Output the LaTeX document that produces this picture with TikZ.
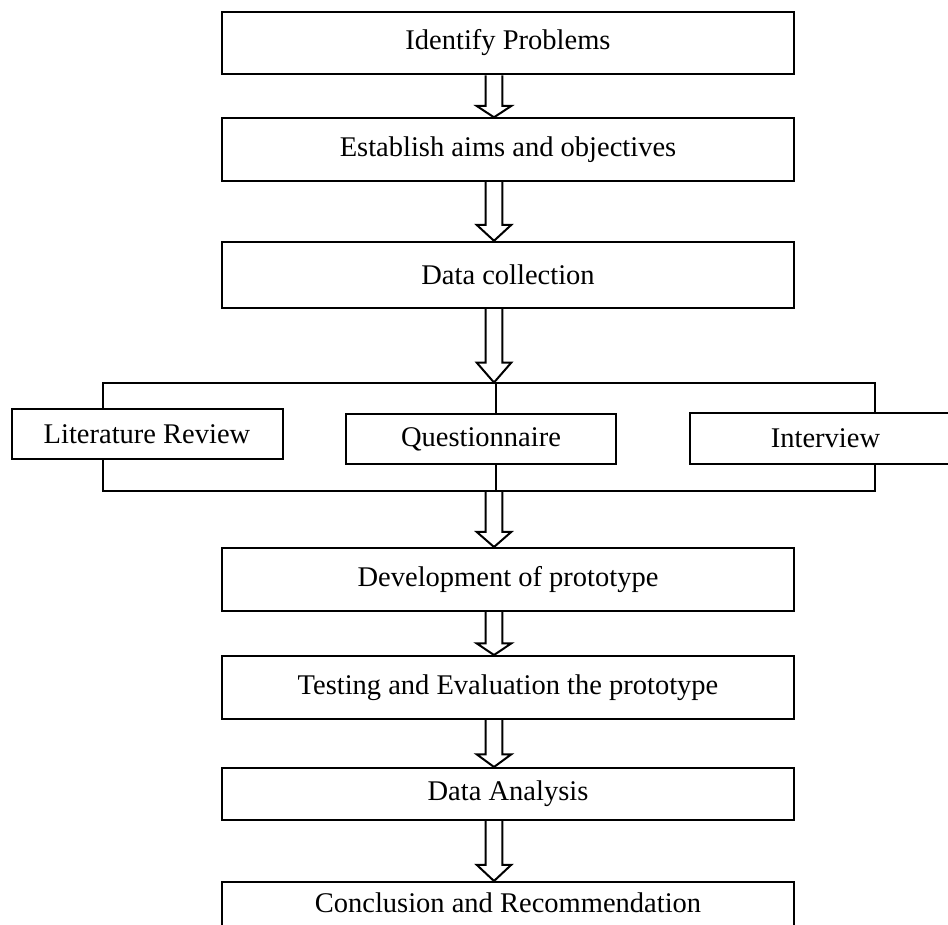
\documentclass[tikz,border=0pt]{standalone}
\usepackage{fontspec}
\setmainfont{Liberation Serif}
\usetikzlibrary{positioning, calc}

% hollow block arrow between two points
\newcommand{\hollowarrow}[2]{%
  \path (#1) coordinate (ha-s) (#2) coordinate (ha-e);
  \draw[hollow]
    ($(ha-s)+(-8.3pt,0)$) -- ($(ha-e)!0.27!(ha-s)+(-8.3pt,0)$)
    -- ($(ha-e)!0.27!(ha-s)+(-17.3pt,0)$) -- (ha-e)
    -- ($(ha-e)!0.27!(ha-s)+(17.3pt,0)$) -- ($(ha-e)!0.27!(ha-s)+(8.3pt,0)$)
    -- ($(ha-s)+(8.3pt,0)$);}

\begin{document}
\begin{tikzpicture}[
    x=1pt, y=1pt,
    node distance=40pt,
    stage/.style={draw, line width=2pt, minimum width=572pt, inner sep=0pt,
      font=\fontsize{28.5pt}{34pt}\selectfont},
    source/.style={stage, minimum width=271pt, minimum height=50pt},
    hollow/.style={line width=2pt},
    bracket/.style={line width=2pt}
  ]
  \useasboundingbox (0,0) rectangle (948,-924);
  \coordinate (axis) at (494,0);

  % Upper chain
  \node[stage, minimum height=62pt, line width=2.6pt] (ident) at (508,-43) {Identify Problems};
  \node[stage, minimum height=62.5pt, below=42pt of ident] (aims) {Establish aims and objectives};
  \node[stage, minimum height=66pt, below=59pt of aims] (collect) {Data collection};

  % Data sources
  \node[source] (lit) at (147,-434) {Literature Review};
  \node[source, minimum width=270pt] (quest) at (481,-439) {Questionnaire};
  \node[source, minimum height=51pt] (intv) at (825.5,-438.5) {Interview};

  % Lower chain
  \node[stage, minimum height=63pt] (proto) at (508,-579.5) {Development of prototype};
  \node[stage, minimum height=63pt, below=43pt of proto] (test) {Testing and Evaluation the prototype};
  \node[stage, minimum height=52pt, below=47pt of test] (analysis) {Data Analysis};
  \node[stage, inner ysep=10pt, text height=20pt, text depth=24pt,
    below=60pt of analysis] (concl) {Conclusion and Recommendation};

  % Bracket round the sources
  \coordinate (jtop) at (496,-382.5);
  \coordinate (jbot) at (496,-491);
  \coordinate (lx) at (102.5,0);
  \coordinate (rx) at (874.5,0);
  \draw[bracket] (lit.north -| lx) -- (jtop -| lx) -- (jtop -| rx) -- (intv.north -| rx);
  \draw[bracket] (jtop) -- (quest.north -| jtop);
  \draw[bracket] (lit.south -| lx) -- (jbot -| lx) -- (jbot -| rx) -- (intv.south -| rx);
  \draw[bracket] (quest.south -| jbot) -- (jbot);

  % Arrows
  \hollowarrow{ident.south -| axis}{aims.north -| axis}
  \hollowarrow{aims.south -| axis}{collect.north -| axis}
  \hollowarrow{collect.south -| axis}{jtop -| axis}
  \hollowarrow{jbot -| axis}{proto.north -| axis}
  \hollowarrow{proto.south -| axis}{test.north -| axis}
  \hollowarrow{test.south -| axis}{analysis.north -| axis}
  \hollowarrow{analysis.south -| axis}{concl.north -| axis}
\end{tikzpicture}
\end{document}
